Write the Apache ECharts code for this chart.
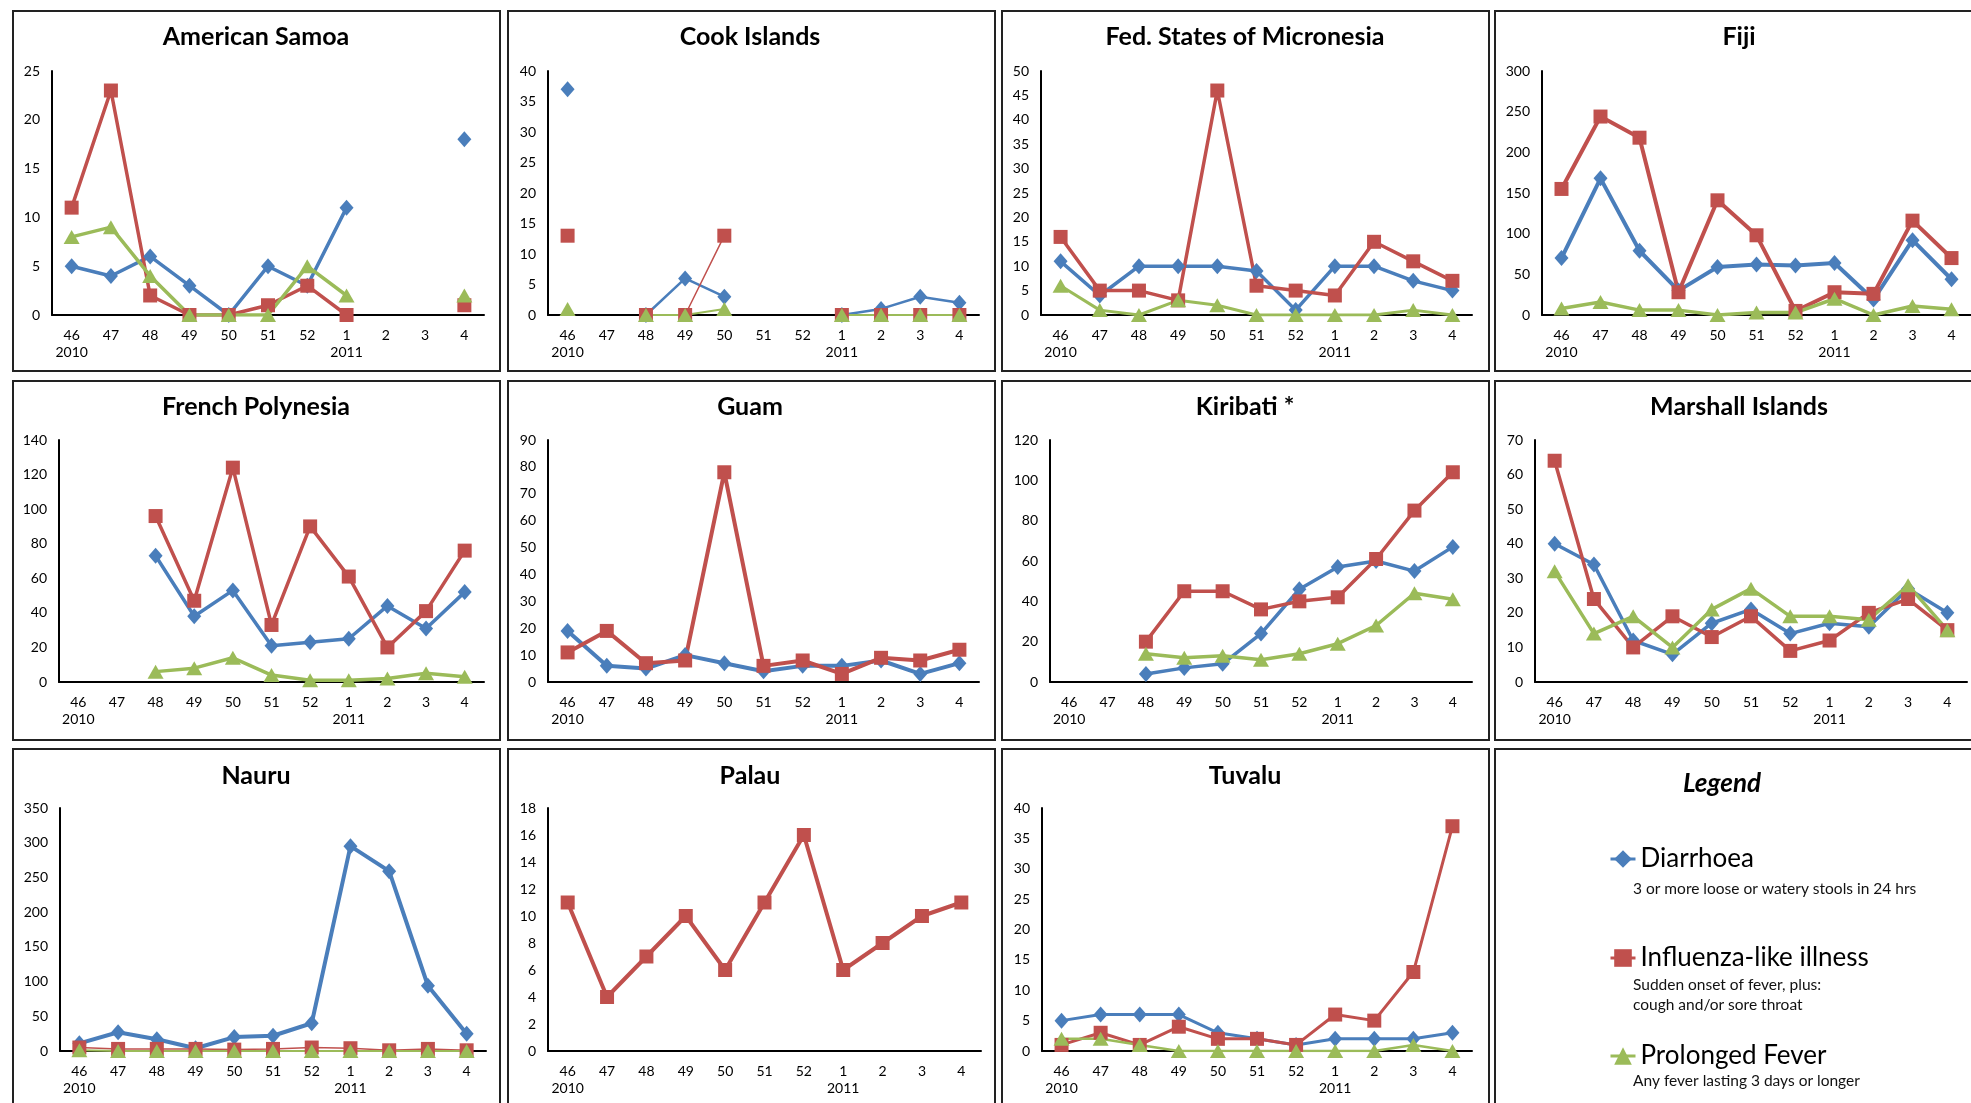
<!DOCTYPE html>
<html>
<head>
<meta charset="utf-8">
<script src="https://cdn.jsdelivr.net/npm/echarts@6/dist/echarts.min.js"></script>
<style>
html,body{margin:0;padding:0;background:#fff;}
#chart{width:1971px;height:1103px;}
</style>
</head>
<body>
<div id="chart"></div>
<script>
// ---------------- DATA ----------------
const weeks = ['46','47','48','49','50','51','52','1','2','3','4'];
const yearLabels = ['2010','','','','','','','2011','','',''];
const seriesNames = ['Diarrhoea','Influenza-like illness','Prolonged Fever'];
const legendNotes = [
  ['3 or more loose or watery stools in 24 hrs'],
  ['Sudden onset of fever, plus:','cough and/or sore throat'],
  ['Any fever lasting 3 days or longer']
];
const countries = ['American Samoa','Cook Islands','Fed. States of Micronesia','Fiji',
  'French Polynesia','Guam','Kiribati *','Marshall Islands','Nauru','Palau','Tuvalu'];
const yMax  = [25, 40, 50, 300, 140, 90, 120, 70, 350, 18, 40];
const yStep = [5, 5, 5, 50, 20, 10, 20, 10, 50, 2, 5];

const diarAmSamoa = [5,4,6,3,0,5,3,11,null,null,18];
const iliAmSamoa  = [11,23,2,0,0,1,3,0,null,null,1];
const pfAmSamoa   = [8,9,4,0,0,0,5,2,null,null,2];

const diarCook = [37,null,0,6,3,null,null,0,1,3,2];
const iliCook  = [13,null,0,0,13,null,null,0,0,0,0];
const pfCook   = [1,null,0,0,1,null,null,0,0,0,0];

const diarFSM = [11,4,10,10,10,9,1,10,10,7,5];
const iliFSM  = [16,5,5,3,46,6,5,4,15,11,7];
const pfFSM   = [6,1,0,3,2,0,0,0,0,1,0];

const diarFiji = [70,168,79,30,59,62,61,64,19,92,44];
const iliFiji  = [155,244,218,28,141,98,5,28,26,116,70];
const pfFiji   = [8,16,6,6,0,3,3,20,0,11,7];

const diarFrPoly = [null,null,73,38,53,21,23,25,44,31,52];
const iliFrPoly  = [null,null,96,47,124,33,90,61,20,41,76];
const pfFrPoly   = [null,null,6,8,14,4,1,1,2,5,3];

const diarGuam = [19,6,5,10,7,4,6,6,8,3,7];
const iliGuam  = [11,19,7,8,78,6,8,3,9,8,12];
const pfGuam   = null;

const diarKiribati = [null,null,4,7,9,24,46,57,60,55,67];
const iliKiribati  = [null,null,20,45,45,36,40,42,61,85,104];
const pfKiribati   = [null,null,14,12,13,11,14,19,28,44,41];

const diarMarshall = [40,34,12,8,17,21,14,17,16,27,20];
const iliMarshall  = [64,24,10,19,13,19,9,12,20,24,15];
const pfMarshall   = [32,14,19,10,21,27,19,19,18,28,15];

const diarNauru = [11,27,17,4,20,22,40,295,259,94,25];
const iliNauru  = [5,3,3,3,2,3,5,4,1,3,1];
const pfNauru   = [1,0,0,0,0,0,0,0,0,0,0];

const diarPalau = null;
const iliPalau  = [11,4,7,10,6,11,16,6,8,10,11];
const pfPalau   = null;

const diarTuvalu = [5,6,6,6,3,2,1,2,2,2,3];
const iliTuvalu  = [1,3,1,4,2,2,1,6,5,13,37];
const pfTuvalu   = [2,2,1,0,0,0,0,0,0,1,0];

const panelData = [
  [diarAmSamoa, iliAmSamoa, pfAmSamoa],
  [diarCook, iliCook, pfCook],
  [diarFSM, iliFSM, pfFSM],
  [diarFiji, iliFiji, pfFiji],
  [diarFrPoly, iliFrPoly, pfFrPoly],
  [diarGuam, iliGuam, pfGuam],
  [diarKiribati, iliKiribati, pfKiribati],
  [diarMarshall, iliMarshall, pfMarshall],
  [diarNauru, iliNauru, pfNauru],
  [diarPalau, iliPalau, pfPalau],
  [diarTuvalu, iliTuvalu, pfTuvalu]
];

// ---------------- LAYOUT / STYLE ----------------
const FONT = 'Lato, "Open Sans", sans-serif';
const colors = ['#4A7EBB', '#C0504D', '#9BBB59'];
const symbols = ['diamond', 'rect', 'triangle'];
const symbolSizes = [[14, 16], 14, [16, 14]];
const lineWidths = [
  [3.5,3.5,3.5],[2.5,1.5,2],[3.5,3.5,3],[4,4,3.5],
  [3.5,3.5,3.5],[4,4,3.5],[3.5,3.5,3.5],[3.5,3.5,3.5],
  [4,1.5,2],[4,4,4],[3,3,2.5]
];
// grid boxes: left, top, width, height
const gridBoxes = [
  [52,71,432,244],[548,71,431,244],[1041,71,431,244],[1542,71,429,244],
  [59,440,425,242],[548,440,431,242],[1050,440,422,242],[1535,440,432,242],
  [60,808,426,243],[548,808,433,243],[1042,808,430,243]
];
const colLeft = [13, 508, 1002, 1495];
const colWidth = [487, 487, 487, 520];
const rowTop = [11, 381, 749];
const rowHeight = [360, 359, 380];
const titleCX = [256, 750, 1245, 1739];
const titleCY = [38, 408, 777];

// ---------------- BUILD OPTION ----------------
const grids = [], xAxes = [], yAxes = [], series = [], titles = [], graphics = [];

for (let r = 0; r < 3; r++) {
  for (let c = 0; c < 4; c++) {
    graphics.push({
      type: 'rect', z: -10, silent: true,
      shape: { x: colLeft[c], y: rowTop[r], width: colWidth[c], height: rowHeight[r] },
      style: { fill: '#fff', stroke: '#222', lineWidth: 2 }
    });
  }
}

countries.forEach((name, k) => {
  const b = gridBoxes[k];
  const col = k % 4, row = Math.floor(k / 4);
  grids.push({ left: b[0], top: b[1], width: b[2], height: b[3], containLabel: false, outerBoundsMode: 'none' });
  titles.push({
    text: name, left: titleCX[col], top: titleCY[row] - 14, textAlign: 'center', padding: 0,
    textStyle: { fontFamily: FONT, fontSize: 25, fontWeight: 'bold', color: '#000' }
  });
  xAxes.push({
    type: 'category', gridIndex: k, data: weeks, boundaryGap: true,
    axisLine: { show: true, lineStyle: { color: '#000', width: 2 } },
    axisTick: { show: false }, splitLine: { show: false },
    axisLabel: {
      interval: 0, margin: 12, color: '#000', fontFamily: FONT, fontSize: 14, lineHeight: 17,
      formatter: (v, i) => yearLabels[i] ? v + '\n' + yearLabels[i] : v
    }
  });
  yAxes.push({
    type: 'value', gridIndex: k, min: 0, max: yMax[k], interval: yStep[k],
    axisLine: { show: true, lineStyle: { color: '#000', width: 2 } },
    axisTick: { show: false }, splitLine: { show: false },
    axisLabel: { margin: 12, color: '#000', fontFamily: FONT, fontSize: 14 }
  });
  panelData[k].forEach((arr, s) => {
    if (!arr) return;
    series.push({
      type: 'line', name: seriesNames[s], xAxisIndex: k, yAxisIndex: k, data: arr,
      symbol: symbols[s], symbolSize: symbolSizes[s], showAllSymbol: true, connectNulls: false,
      animation: false,
      lineStyle: { color: colors[s], width: lineWidths[k][s] },
      itemStyle: { color: colors[s] },
      emphasis: { disabled: true }
    });
  });
});

// legend panel
titles.push({
  text: 'Legend', left: 1722, top: 771, textAlign: 'center', padding: 0,
  textStyle: { fontFamily: FONT, fontSize: 26, fontWeight: 'bold', fontStyle: 'italic', color: '#000' }
});
const legendCY = [859, 958, 1056];
const legends = seriesNames.map((n, s) => ({
  data: [n], left: 1609, top: legendCY[s] - 13, orient: 'vertical', padding: 0,
  itemWidth: 25, itemHeight: 22,
  lineStyle: { width: 3 },
  textStyle: { fontFamily: FONT, fontSize: 26, color: '#000' }
}));
const noteY = [[889], [985, 1005], [1081]];
legendNotes.forEach((lines, s) => {
  lines.forEach((t, j) => {
    graphics.push({
      type: 'text', silent: true, x: 1633, y: noteY[s][j],
      style: { text: t, fontFamily: FONT, fontSize: 15.5, fill: '#111', textVerticalAlign: 'middle', verticalAlign: 'middle' }
    });
  });
});

const chart = echarts.init(document.getElementById('chart'), null, { renderer: 'canvas' });
chart.setOption({
  backgroundColor: '#fff',
  animation: false,
  title: titles,
  legend: legends,
  grid: grids,
  xAxis: xAxes,
  yAxis: yAxes,
  series: series,
  graphic: graphics
});
</script>
</body>
</html>
